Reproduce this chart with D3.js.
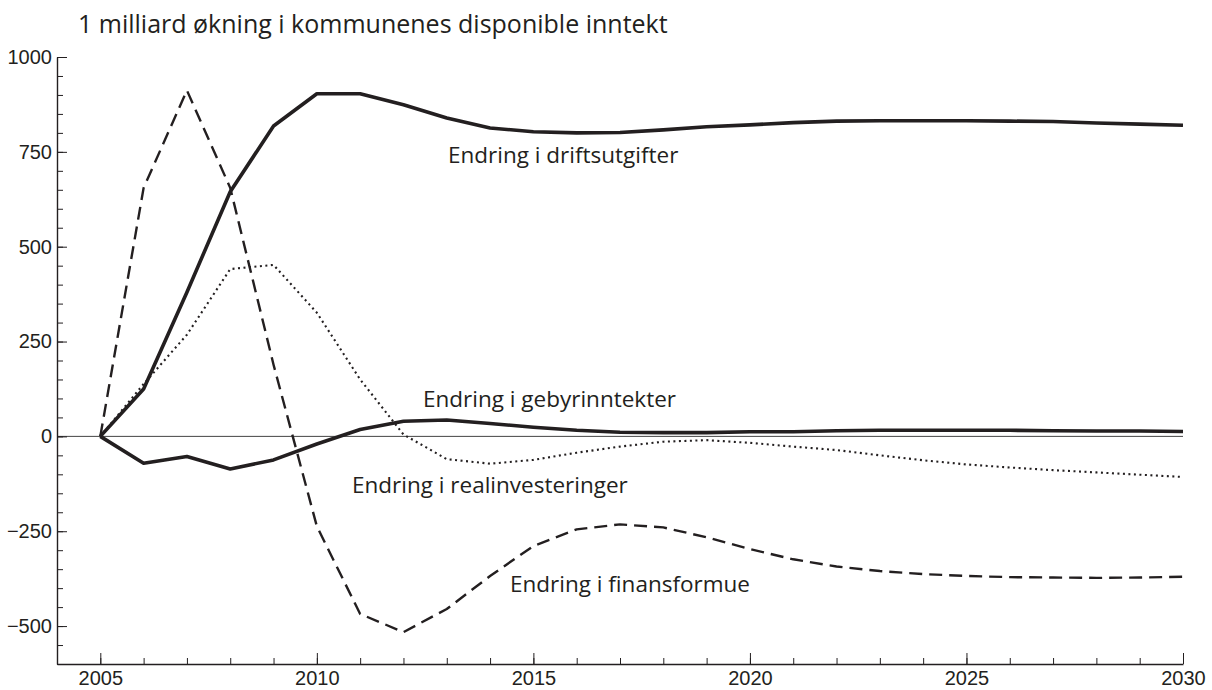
<!DOCTYPE html>
<html>
<head>
<meta charset="utf-8">
<script src="https://cdn.jsdelivr.net/npm/d3@7.9.0/dist/d3.min.js"></script>
<style>
  body { margin: 0; background: #fff; }
  svg { display: block; font-family: "Open Sans", sans-serif; }
  .tick text { fill: #231f20; font-size: 20px; }
  .label { fill: #231f20; font-size: 22.5px; }
</style>
</head>
<body>
<svg id="chart" width="1212" height="690"></svg>
<script>
// years on the x axis
const years = d3.range(2005, 2031);

// thick solid line
const driftsutgifter = [0, 125, 380, 645, 818, 903, 903, 874, 839, 813, 803, 800, 801, 808, 816, 821,
  827, 831, 832, 832, 832, 831, 830, 826, 823, 820];
// thick solid line near zero
const gebyrinntekter = [0, -71, -53, -86, -62, -20, 18, 40, 43, 34, 24, 16, 11, 10, 10, 12,
  12, 15, 16, 16, 16, 16, 15, 14, 14, 13];
// dotted
const realinvesteringer = [0, 138, 268, 441, 452, 326, 150, 5, -60, -72, -62, -43, -27, -14, -10, -17,
  -27, -36, -50, -63, -74, -82, -89, -95, -101, -107];
// dashed
const finansformue = [0, 655, 912, 655, 189, -237, -468, -516, -455, -368, -289, -245, -232, -240, -266, -297,
  -324, -343, -355, -363, -368, -371, -372, -373, -372, -370];

const title = '1 milliard økning i kommunenes disponible inntekt';
const yMajor = [-500, -250, 0, 250, 500, 750, 1000];
const xMajor = [2005, 2010, 2015, 2020, 2025, 2030];

const series = [
  { name: 'Endring i driftsutgifter', values: driftsutgifter, width: 3.6, dash: null, lx: 448, ly: 163 },
  { name: 'Endring i gebyrinntekter', values: gebyrinntekter, width: 3.6, dash: null, lx: 423, ly: 407 },
  { name: 'Endring i realinvesteringer', values: realinvesteringer, width: 2.1, dash: '2,3.5', lx: 352, ly: 493 },
  { name: 'Endring i finansformue', values: finansformue, width: 2.4, dash: '13,7', lx: 510, ly: 592 }
];

const svg = d3.select('#chart');
const ink = '#231f20';
const fmt = d3.format('d'); // d3 v7 uses the real minus sign

const x = d3.scaleLinear().domain([2004, 2030]).range([57, 1183]);
const y = d3.scaleLinear().domain([-600, 1000]).range([664, 57]);

// title
svg.append('text')
  .attr('x', 78)
  .attr('y', 33)
  .attr('fill', ink)
  .style('font-size', '25px')
  .text(title);

// zero line
svg.append('line')
  .attr('x1', x(2004)).attr('x2', x(2030))
  .attr('y1', y(0)).attr('y2', y(0))
  .attr('stroke', '#444')
  .attr('stroke-width', 1);

// minor y ticks
svg.append('g')
  .attr('transform', `translate(${x(2004)},0)`)
  .call(d3.axisLeft(y).tickValues(d3.range(-600, 1001, 50)).tickSizeInner(-6).tickSizeOuter(0).tickFormat(''))
  .call(g => g.select('.domain').remove())
  .call(g => g.selectAll('line').attr('stroke', ink));

// major y ticks + labels
svg.append('g')
  .attr('transform', `translate(${x(2004)},0)`)
  .call(d3.axisLeft(y).tickValues(yMajor).tickSizeInner(-10).tickSizeOuter(0).tickPadding(5).tickFormat(fmt))
  .call(g => g.select('.domain').attr('stroke', ink).attr('stroke-width', 1.4))
  .call(g => g.selectAll('line').attr('stroke', ink))
  .call(g => g.selectAll('text').attr('font-family', null));

// minor x ticks
svg.append('g')
  .attr('transform', `translate(0,${y(-600)})`)
  .call(d3.axisBottom(x).tickValues(years).tickSizeInner(-6).tickSizeOuter(0).tickFormat(''))
  .call(g => g.select('.domain').remove())
  .call(g => g.selectAll('line').attr('stroke', ink));

// major x ticks + labels
svg.append('g')
  .attr('transform', `translate(0,${y(-600)})`)
  .call(d3.axisBottom(x).tickValues(xMajor).tickSizeInner(-11).tickSizeOuter(0).tickPadding(7).tickFormat(fmt))
  .call(g => g.select('.domain').attr('stroke', ink).attr('stroke-width', 1.4))
  .call(g => g.selectAll('line').attr('stroke', ink))
  .call(g => g.selectAll('text').attr('font-family', null));

const line = d3.line()
  .x((d, i) => x(years[i]))
  .y(d => y(d));

series.forEach(s => {
  svg.append('path')
    .datum(s.values)
    .attr('d', line)
    .attr('fill', 'none')
    .attr('stroke', ink)
    .attr('stroke-width', s.width)
    .attr('stroke-linejoin', 'round')
    .attr('stroke-dasharray', s.dash);

  svg.append('text')
    .attr('class', 'label')
    .attr('x', s.lx)
    .attr('y', s.ly)
    .text(s.name);
});
</script>
</body>
</html>
